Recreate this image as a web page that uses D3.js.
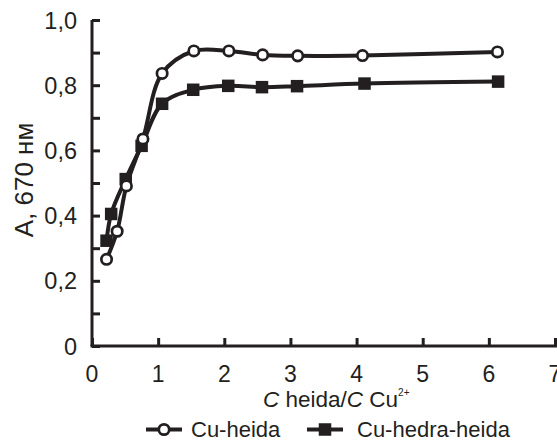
<!DOCTYPE html>
<html><head><meta charset="utf-8">
<script src="https://cdn.jsdelivr.net/npm/d3@7"></script>
<style>body{margin:0;background:#fff}svg{display:block}text{font-family:Arial,"Liberation Sans",sans-serif;fill:#231f20}</style>
</head><body><svg id="c" width="557" height="442"></svg>
<script>
const heidaX = [0.22, 0.38, 0.52, 0.77, 1.06, 1.54, 2.07, 2.58, 3.11, 4.09, 6.13];
const heidaY = [0.266, 0.352, 0.491, 0.635, 0.836, 0.905, 0.905, 0.893, 0.890, 0.891, 0.902];
const hedraX = [0.22, 0.29, 0.51, 0.75, 1.06, 1.53, 2.06, 2.57, 3.10, 4.12, 6.14];
const hedraY = [0.323, 0.405, 0.512, 0.614, 0.743, 0.786, 0.798, 0.794, 0.797, 0.805, 0.811];
const xTicks = [0, 1, 2, 3, 4, 5, 6, 7];
const yTicks = [0, 0.2, 0.4, 0.6, 0.8, 1.0];
const yMinorTicks = [0.1, 0.3, 0.5, 0.7, 0.9];
const seriesNames = ["Cu-heida", "Cu-hedra-heida"];

const col = "#231f20";
const svg = d3.select("#c");
const x = d3.scaleLinear().domain([0, 7]).range([92, 555]);
const y = d3.scaleLinear().domain([0, 1]).range([346, 20]);

// axes
const yAxis = d3.axisRight(y).tickValues(yTicks.concat(yMinorTicks)).tickSize(8).tickFormat("");
const gy = svg.append("g").attr("transform", `translate(${x(0)},0)`).call(yAxis);
gy.select(".domain").attr("d", `M0,${y(1)}V${y(0)}`);
const xAxis = d3.axisTop(x).tickValues(xTicks).tickSize(8).tickFormat("");
const gx = svg.append("g").attr("transform", `translate(0,${y(0)})`).call(xAxis);
gx.select(".domain").attr("d", `M${x(0)-1.5},0H557`);
svg.selectAll(".domain").attr("stroke", col).attr("stroke-width", 3).attr("fill", "none");
svg.selectAll(".tick line").attr("stroke", col).attr("stroke-width", 3);

// tick labels
svg.append("g").selectAll("text").data(yTicks).join("text")
  .attr("x", 77).attr("y", d => y(d) + 8.5).attr("text-anchor", "end")
  .attr("font-size", 23.5).text(d => d === 0 ? "0" : d3.format(".1f")(d).replace(".", ","));
svg.append("g").selectAll("text").data(xTicks).join("text")
  .attr("x", d => x(d)).attr("y", 382).attr("text-anchor", "middle")
  .attr("font-size", 23).text(d => d);

// axis titles
svg.append("text").attr("transform", "translate(33,180) rotate(-90)")
  .attr("text-anchor", "middle").attr("font-size", 26).text("A, 670 нм");
const xt = svg.append("text").attr("x", 263).attr("y", 407).attr("font-size", 22.5);
xt.append("tspan").attr("font-style", "italic").text("C");
xt.append("tspan").text(" heida/");
xt.append("tspan").attr("font-style", "italic").text("C");
xt.append("tspan").text(" Cu");
xt.append("tspan").attr("font-size", 10).attr("dy", -11).text("2+");

// lines
const line = d3.line().curve(d3.curveCatmullRom.alpha(0.5)).x(d => x(d[0])).y(d => y(d[1]));
const heida = heidaX.map((v, i) => [v, heidaY[i]]);
const hedra = hedraX.map((v, i) => [v, hedraY[i]]);
svg.append("path").datum(hedra).attr("d", line).attr("fill", "none").attr("stroke", col).attr("stroke-width", 4);
svg.append("path").datum(heida).attr("d", line).attr("fill", "none").attr("stroke", col).attr("stroke-width", 4);
const sq = 12.5;
svg.append("g").selectAll("rect").data(hedra).join("rect")
  .attr("x", d => x(d[0]) - sq/2).attr("y", d => y(d[1]) - sq/2).attr("width", sq).attr("height", sq).attr("fill", col);
svg.append("g").selectAll("circle").data(heida).join("circle")
  .attr("cx", d => x(d[0])).attr("cy", d => y(d[1])).attr("r", 5.2)
  .attr("fill", "#fff").attr("stroke", col).attr("stroke-width", 2.7);

// legend
const lg = svg.append("g");
const ly = 429.5;
lg.append("line").attr("x1", 146).attr("x2", 182).attr("y1", ly).attr("y2", ly).attr("stroke", col).attr("stroke-width", 4);
lg.append("circle").attr("cx", 164).attr("cy", ly).attr("r", 5.2).attr("fill", "#fff").attr("stroke", col).attr("stroke-width", 2.7);
lg.append("text").attr("x", 191).attr("y", 437).attr("font-size", 22).text(seriesNames[0]);
lg.append("line").attr("x1", 307).attr("x2", 343).attr("y1", ly).attr("y2", ly).attr("stroke", col).attr("stroke-width", 4);
lg.append("rect").attr("x", 325 - sq/2).attr("y", ly - sq/2).attr("width", sq).attr("height", sq).attr("fill", col);
lg.append("text").attr("x", 357).attr("y", 437).attr("font-size", 22).text(seriesNames[1]);
</script></body></html>
